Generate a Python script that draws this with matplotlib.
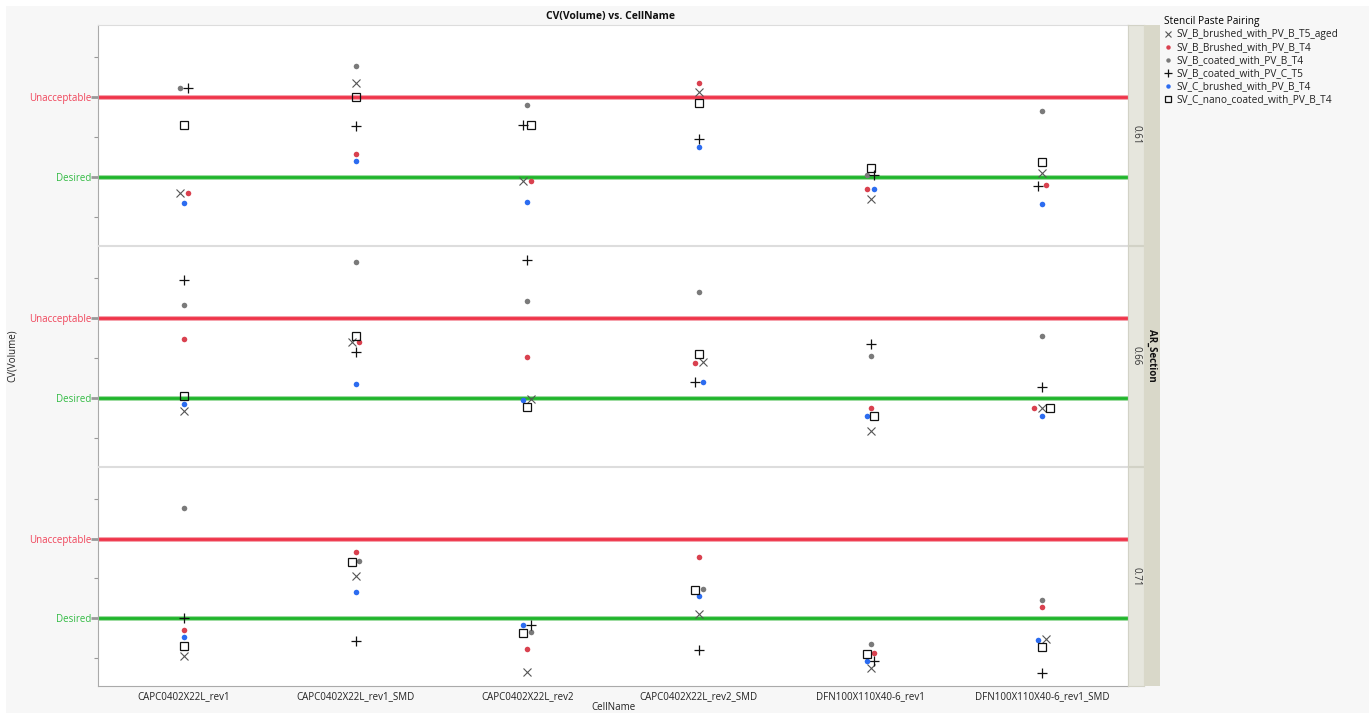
import numpy as np
import matplotlib.pyplot as plt
from matplotlib.lines import Line2D
from matplotlib.patches import Rectangle

plt.rcParams['font.family'] = ['Open Sans', 'DejaVu Sans']

# ---Data
cells = ['CAPC0402X22L_rev1', 'CAPC0402X22L_rev1_SMD', 'CAPC0402X22L_rev2',
         'CAPC0402X22L_rev2_SMD', 'DFN100X110X40-6_rev1', 'DFN100X110X40-6_rev1_SMD']
sections = ['0.61', '0.66', '0.71']
pairings = ['SV_B_brushed_with_PV_B_T5_aged', 'SV_B_Brushed_with_PV_B_T4',
            'SV_B_coated_with_PV_B_T4', 'SV_B_coated_with_PV_C_T5',
            'SV_C_brushed_with_PV_B_T4', 'SV_C_nano_coated_with_PV_B_T4']

desired = 0.10
unacceptable = 0.20

# CV(Volume) per section, one row per pairing, one column per cell
cv_061 = [
    [0.080, 0.218, 0.095, 0.206, 0.072, 0.105],
    [0.080, 0.129, 0.095, 0.217, 0.085, 0.090],
    [0.211, 0.239, 0.190, np.nan, 0.102, 0.182],
    [0.211, 0.164, 0.165, 0.147, 0.102, 0.089],
    [0.068, 0.120, 0.069, 0.138, 0.085, 0.066],
    [0.165, 0.200, 0.165, 0.193, 0.111, 0.119],
]
cv_066 = [
    [0.084, 0.170, 0.099, 0.145, 0.059, 0.088],
    [0.174, 0.170, 0.151, 0.144, 0.087, 0.087],
    [0.216, 0.270, 0.221, 0.233, 0.153, 0.178],
    [0.247, 0.157, 0.272, 0.120, 0.168, 0.114],
    [0.093, 0.117, 0.098, 0.120, 0.077, 0.078],
    [0.102, 0.178, 0.089, 0.155, 0.077, 0.088],
]
cv_071 = [
    [0.053, 0.153, 0.033, 0.105, 0.038, 0.074],
    [0.085, 0.183, 0.061, 0.177, 0.056, 0.114],
    [0.238, 0.172, 0.083, 0.137, 0.068, 0.123],
    [0.100, 0.072, 0.092, 0.060, 0.047, 0.031],
    [0.076, 0.133, 0.091, 0.128, 0.046, 0.073],
    [0.065, 0.171, 0.082, 0.136, 0.055, 0.064],
]
panels = [cv_061, cv_066, cv_071]

styles = [
    dict(marker='x', color='#555555', ms=5.5, mew=0.8, mfc='none'),
    dict(marker='o', color='#d9414f', ms=4, mew=0),
    dict(marker='o', color='#7a7a7a', ms=4, mew=0),
    dict(marker='+', color='#111111', ms=7, mew=0.9),
    dict(marker='o', color='#2c6cf0', ms=4, mew=0),
    dict(marker='s', color='#111111', ms=5.2, mew=0.9, mfc='none'),
]


def spread(values, tol=0.006, step=0.045):
    # nudge overlapping points sideways within one category
    vals = np.asarray(values, dtype=float)
    off = np.zeros(len(vals))
    order = [i for i in np.argsort(vals, kind='stable') if not np.isnan(vals[i])]
    groups, cur = [], []
    for i in order:
        if cur and vals[i] - vals[cur[-1]] > tol:
            groups.append(cur)
            cur = []
        cur.append(i)
    if cur:
        groups.append(cur)
    for g in groups:
        n = len(g)
        for k, i in enumerate(g):
            off[i] = (k - (n - 1) / 2.) * step
    return off


W, H = 1372, 719
fig = plt.figure(figsize=(W / 100., H / 100.), dpi=100, facecolor='white')
fig.patches.append(Rectangle((6 / W, 6 / H), (W - 9) / W, (H - 12) / H,
                             transform=fig.transFigure, facecolor='#f7f7f7',
                             edgecolor='none', zorder=-10))


def px(x0, y0, x1, y1):
    return [x0 / W, 1 - y1 / H, (x1 - x0) / W, (y1 - y0) / H]


tops = [(25, 245), (246, 466), (467, 686)]
xpos = np.arange(len(cells))
axes = []
for p, (y0, y1) in enumerate(tops):
    ax = fig.add_axes(px(98, y0, 1128, y1))
    ax.set_facecolor('white')
    data = np.array(panels[p])
    offs = np.array([spread(data[:, c]) for c in range(len(cells))]).T
    for s in range(len(pairings)):
        ax.plot(xpos + offs[s], data[s], linestyle='none', zorder=3, **styles[s])
    # reference lines
    ax.axhline(unacceptable, color='#f5a3ad', lw=3.6, zorder=1)
    ax.axhline(unacceptable, color='#ef3349', lw=2.0, zorder=2)
    ax.axhline(desired, color='#9fdca2', lw=3.6, zorder=1)
    ax.axhline(desired, color='#1fb52a', lw=2.0, zorder=2)
    ax.set_xlim(-0.5, len(cells) - 0.5)
    ax.set_ylim(0.015, 0.29)
    ax.set_yticks([0.05, desired, 0.15, unacceptable, 0.25])
    ax.set_yticklabels(['', 'Desired', '', 'Unacceptable', ''], fontsize=7)
    ax.tick_params(axis='y', length=3, color='#999999', pad=2)
    ylab = ax.get_yticklabels()
    ylab[1].set_color('#33bb44')
    ylab[3].set_color('#f0445a')
    yt = ax.yaxis.get_major_ticks()
    yt[1].tick1line.set_color('#1fb52a')
    yt[1].tick1line.set_markeredgewidth(2)
    yt[1].tick1line.set_markersize(5)
    yt[3].tick1line.set_color('#ef3349')
    yt[3].tick1line.set_markeredgewidth(2)
    yt[3].tick1line.set_markersize(5)
    ax.set_xticks(xpos)
    if p == len(tops) - 1:
        ax.set_xticklabels(cells, fontsize=7, color='#222222')
    else:
        ax.set_xticklabels([])
    ax.tick_params(axis='x', length=0, pad=4)
    for side in ['top', 'right']:
        ax.spines[side].set_color('#dddddd')
    for side in ['left', 'bottom']:
        ax.spines[side].set_color('#aaaaaa')
    if p < len(tops) - 1:
        ax.spines['bottom'].set_color('#dddddd')
    axes.append(ax)

    # section strip
    sx = fig.add_axes(px(1128, y0, 1144, y1))
    sx.set_facecolor('#e6e6dd')
    sx.set_xticks([])
    sx.set_yticks([])
    for sp in sx.spines.values():
        sp.set_color('#d2d2c6')
    sx.text(0.5, 0.5, sections[p], rotation=270, ha='center', va='center',
            fontsize=7, color='#333333', transform=sx.transAxes)

# outer strip for the grouping variable
ox = fig.add_axes(px(1144, 25, 1160, 686))
ox.set_facecolor('#d9d8c9')
ox.set_xticks([])
ox.set_yticks([])
for sp in ox.spines.values():
    sp.set_visible(False)
ox.text(0.5, 0.5, 'AR_Section', rotation=270, ha='center', va='center',
        fontsize=7, fontweight='bold', color='#111111', transform=ox.transAxes)

fig.text(611 / W, 1 - 16 / H, 'CV(Volume) vs. CellName', ha='center', va='center',
         fontsize=7.5, fontweight='bold', color='#111111')
fig.text(12 / W, 1 - 356 / H, 'CV(Volume)', rotation=90, ha='center', va='center',
         fontsize=7, color='#222222')
fig.text(613 / W, 1 - 708 / H, 'CellName', ha='center', va='center',
         fontsize=7, color='#222222')

# legend
handles = [Line2D([], [], linestyle='none', **st) for st in styles]
leg = fig.legend(handles, pairings, title='Stencil Paste Pairing',
                 loc='upper left', bbox_to_anchor=(1160 / W, 1 - 12 / H),
                 frameon=False, fontsize=7.3, title_fontsize=7.3, handlelength=0.8,
                 handletextpad=0.4, labelspacing=0.2, borderaxespad=0,
                 markerscale=0.8, alignment='left')
for t in leg.get_texts():
    t.set_color('#222222')

plt.savefig('out.png', dpi=100, facecolor=fig.get_facecolor())
